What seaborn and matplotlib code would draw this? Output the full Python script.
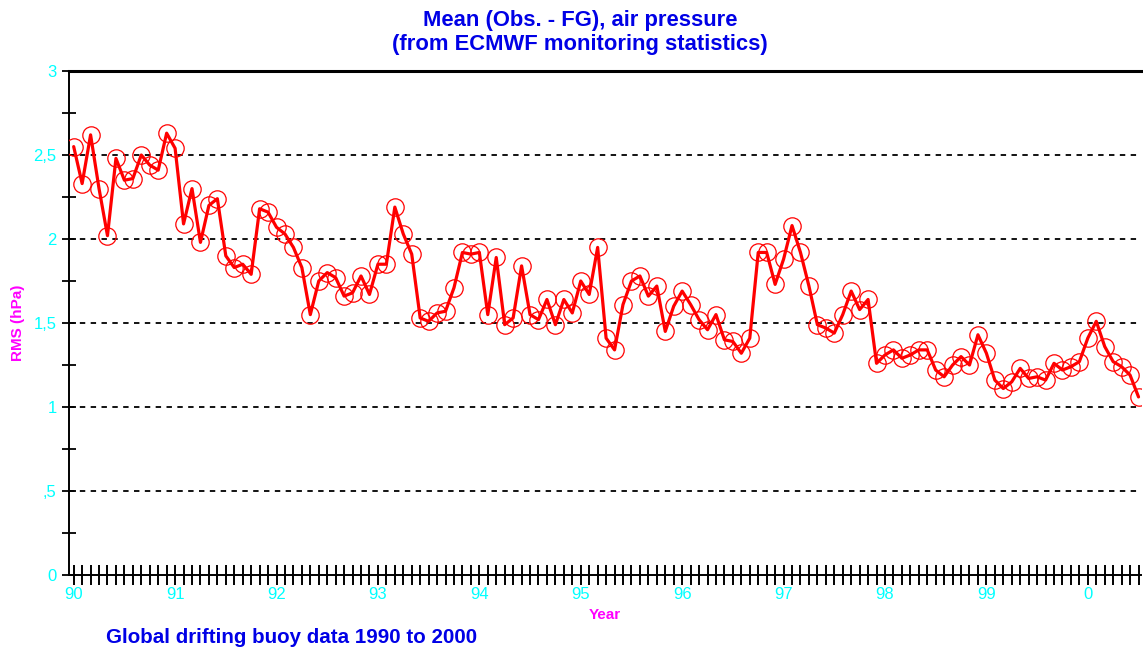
import numpy as np
import pandas as pd
import seaborn as sns
import matplotlib
matplotlib.use("Agg")
import matplotlib.pyplot as plt
from matplotlib.ticker import FixedLocator, FixedFormatter, MultipleLocator

# Monthly RMS values (hPa), one list per year, Jan 1990 .. Jul 2000
rms_1990 = [2.55, 2.33, 2.62, 2.30, 2.02, 2.48, 2.35, 2.36, 2.50, 2.44, 2.41, 2.63]
rms_1991 = [2.54, 2.09, 2.30, 1.98, 2.20, 2.24, 1.90, 1.83, 1.85, 1.79, 2.18, 2.16]
rms_1992 = [2.07, 2.03, 1.95, 1.83, 1.55, 1.75, 1.80, 1.77, 1.66, 1.68, 1.78, 1.67]
rms_1993 = [1.85, 1.85, 2.19, 2.03, 1.91, 1.53, 1.51, 1.56, 1.57, 1.71, 1.92, 1.91]
rms_1994 = [1.92, 1.55, 1.89, 1.49, 1.53, 1.84, 1.55, 1.52, 1.64, 1.49, 1.64, 1.56]
rms_1995 = [1.75, 1.67, 1.95, 1.41, 1.34, 1.61, 1.75, 1.78, 1.66, 1.72, 1.45, 1.60]
rms_1996 = [1.69, 1.61, 1.52, 1.46, 1.55, 1.40, 1.39, 1.32, 1.41, 1.92, 1.92, 1.73]
rms_1997 = [1.88, 2.08, 1.92, 1.72, 1.49, 1.47, 1.44, 1.55, 1.69, 1.58, 1.64, 1.26]
rms_1998 = [1.31, 1.34, 1.29, 1.31, 1.34, 1.34, 1.22, 1.18, 1.25, 1.30, 1.25, 1.43]
rms_1999 = [1.32, 1.16, 1.11, 1.15, 1.23, 1.17, 1.18, 1.16, 1.26, 1.22, 1.24, 1.27]
rms_2000 = [1.41, 1.51, 1.36, 1.27, 1.24, 1.19, 1.06]

year_ticks = list(range(1990, 2001))
year_labels = ["90", "91", "92", "93", "94", "95", "96", "97", "98", "99", "0"]
rms_ticks = [0, 0.5, 1, 1.5, 2, 2.5, 3]
rms_labels = ["0", ",5", "1", "1,5", "2", "2,5", "3"]

values = (rms_1990 + rms_1991 + rms_1992 + rms_1993 + rms_1994 + rms_1995
          + rms_1996 + rms_1997 + rms_1998 + rms_1999 + rms_2000)
df = pd.DataFrame({
    "year": 1990 + np.arange(len(values)) / 12.0,
    "rms": values,
})

sns.set_style("white")
plt.rcParams["font.family"] = ["Liberation Sans", "DejaVu Sans"]

CYAN = "#00ffff"
MAGENTA = "#ff00ff"
BLUE = "#0000e6"

fig = plt.figure(figsize=(11.43, 6.54), dpi=100)
ax = fig.add_axes([0.0604, 0.1208, 0.9379, 0.7706])

sns.lineplot(data=df, x="year", y="rms", ax=ax, color="#ff0000",
             linewidth=2.3, marker="o", markersize=12.5,
             markerfacecolor="none", markeredgecolor="#ff0000",
             markeredgewidth=0.9, zorder=3)

ax.set_xlim(1990 - 0.55 / 12, 1990 + 10.5 + 0.3 / 12)
ax.set_ylim(0, 3)

# Year ticks with month minor ticks, crossing the axis line
ax.xaxis.set_major_locator(FixedLocator(year_ticks))
ax.xaxis.set_major_formatter(FixedFormatter(year_labels))
ax.xaxis.set_minor_locator(MultipleLocator(1 / 12))
ax.yaxis.set_major_locator(FixedLocator(rms_ticks))
ax.yaxis.set_major_formatter(FixedFormatter(rms_labels))
ax.yaxis.set_minor_locator(MultipleLocator(0.25))

ax.tick_params(axis="x", which="both", direction="inout", length=14,
               width=1.4, color="black", bottom=True, top=False,
               labelsize=12, labelcolor=CYAN, pad=2)
ax.tick_params(axis="y", which="both", direction="inout", length=10,
               width=1.3, color="black", left=True, right=False,
               labelsize=12, labelcolor=CYAN, pad=4)

# Dashed horizontal reference lines
for yv in rms_ticks[1:-1]:
    ax.axhline(yv, color="black", linestyle=(0, (3, 3)), linewidth=1.3,
               zorder=1)

for side in ["left", "bottom"]:
    ax.spines[side].set_color("black")
    ax.spines[side].set_linewidth(1.4)
ax.spines["top"].set_color("black")
ax.spines["top"].set_linewidth(2.2)
ax.spines["right"].set_visible(False)

ax.set_xlabel("Year", color=MAGENTA, fontsize=11, fontweight="bold",
              labelpad=4)
ax.set_ylabel("RMS (hPa)", color=MAGENTA, fontsize=11, fontweight="bold")
ax.yaxis.set_label_coords(-0.048, 0.5)
ax.yaxis.label.set_verticalalignment("center")

fig.text(0.5075, 0.9694, "Mean (Obs. - FG), air pressure",
         ha="center", va="center", color=BLUE, fontsize=15.8,
         fontweight="bold")
fig.text(0.5075, 0.9312, "(from ECMWF monitoring statistics)",
         ha="center", va="center", color=BLUE, fontsize=15.8,
         fontweight="bold")
fig.text(0.093, 0.025, "Global drifting buoy data 1990 to 2000",
         ha="left", va="center", color=BLUE, fontsize=14.8,
         fontweight="bold")

fig.savefig("out.png", dpi=100)
